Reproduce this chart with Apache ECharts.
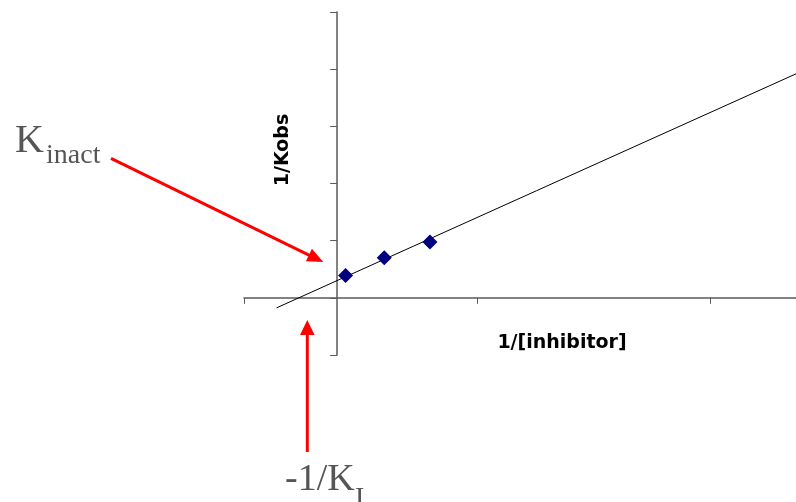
<!DOCTYPE html>
<html>
<head>
<meta charset="utf-8">
<script src="https://cdn.jsdelivr.net/npm/echarts@6/dist/echarts.min.js"></script>
<style>html,body{margin:0;padding:0;background:#fff;}#c{width:796px;height:502px;}</style>
</head>
<body>
<div id="c"></div>
<script>
// Data
var inhibitorInv = [0.18, 1.01, 1.99];      // 1/[inhibitor]
var kobsInv = [0.39, 0.70, 0.975];          // 1/Kobs
var trendX = [-1.3, 9.85];                   // trend line ends (x)
var trendY = [-0.175, 3.92];                 // trend line ends (y)
var xTicks = [-2, 3, 8];
var yMin = -1, yMax = 5, yStep = 1;
var xMin = -2, xMax = 9.845;

var points = inhibitorInv.map(function (x, i) { return [x, kobsInv[i]]; });
var trend = trendX.map(function (x, i) { return [x, trendY[i]]; });

var chart = echarts.init(document.getElementById('c'), null, { renderer: 'canvas' });
var axisColor = '#5a5a5a';
var serif = '"Liberation Serif", "Times New Roman", serif';
var textGray = '#555555';
var red = '#ff0000';

chart.setOption({
  animation: false,
  backgroundColor: '#ffffff',
  grid: { left: 244, right: 0, top: 12, bottom: 147 },
  xAxis: {
    type: 'value', min: xMin, max: xMax,
    axisLine: { show: true, onZero: true, lineStyle: { color: axisColor, width: 1.5 } },
    axisTick: { show: true, length: 6, customValues: xTicks, lineStyle: { color: axisColor, width: 1 } },
    axisLabel: { show: false },
    splitLine: { show: false }
  },
  yAxis: {
    type: 'value', min: yMin, max: yMax, interval: yStep,
    axisLine: { show: true, onZero: true, lineStyle: { color: axisColor, width: 1.5 } },
    axisTick: { show: true, length: 7, lineStyle: { color: axisColor, width: 1 } },
    axisLabel: { show: false },
    splitLine: { show: false }
  },
  series: [
    {
      type: 'line', data: trend, symbol: 'none', silent: true,
      lineStyle: { color: '#000000', width: 1 }, z: 2
    },
    {
      type: 'scatter', data: points, symbol: 'diamond', symbolSize: 15,
      itemStyle: { color: '#000080', opacity: 1 }, z: 3
    }
  ],
  graphic: [
    { type: 'text', x: 283, y: 150, rotation: Math.PI / 2,
      style: { text: '1/Kobs', font: 'bold 19px "DejaVu Sans"', fill: '#000', align: 'center', verticalAlign: 'middle' } },
    { type: 'text', x: 562, y: 343,
      style: { text: '1/[inhibitor]', font: 'bold 19px "DejaVu Sans"', fill: '#000', align: 'center', verticalAlign: 'middle' } },
    { type: 'text', x: 15, y: 141,
      style: { text: 'K', font: '40px ' + serif, fill: textGray, align: 'left', verticalAlign: 'middle' } },
    { type: 'text', x: 46, y: 156,
      style: { text: 'inact', font: '28px ' + serif, fill: textGray, align: 'left', verticalAlign: 'middle' } },
    { type: 'text', x: 285, y: 480,
      style: { text: '-1/K', font: '38px ' + serif, fill: textGray, align: 'left', verticalAlign: 'middle' } },
    { type: 'text', x: 355, y: 499,
      style: { text: 'I', font: '28px ' + serif, fill: textGray, align: 'left', verticalAlign: 'middle' } },
    { type: 'line', shape: { x1: 111, y1: 158.3, x2: 309.5, y2: 255.3 }, style: { stroke: red, lineWidth: 3 } },
    { type: 'polygon', shape: { points: [[323.3, 262], [305.9, 261.3], [311.9, 248.7]] }, style: { fill: red } },
    { type: 'line', shape: { x1: 307.3, y1: 452, x2: 307.3, y2: 334 }, style: { stroke: red, lineWidth: 3 } },
    { type: 'polygon', shape: { points: [[307.3, 320], [300, 335], [314.6, 335]] }, style: { fill: red } }
  ]
});
</script>
</body>
</html>
